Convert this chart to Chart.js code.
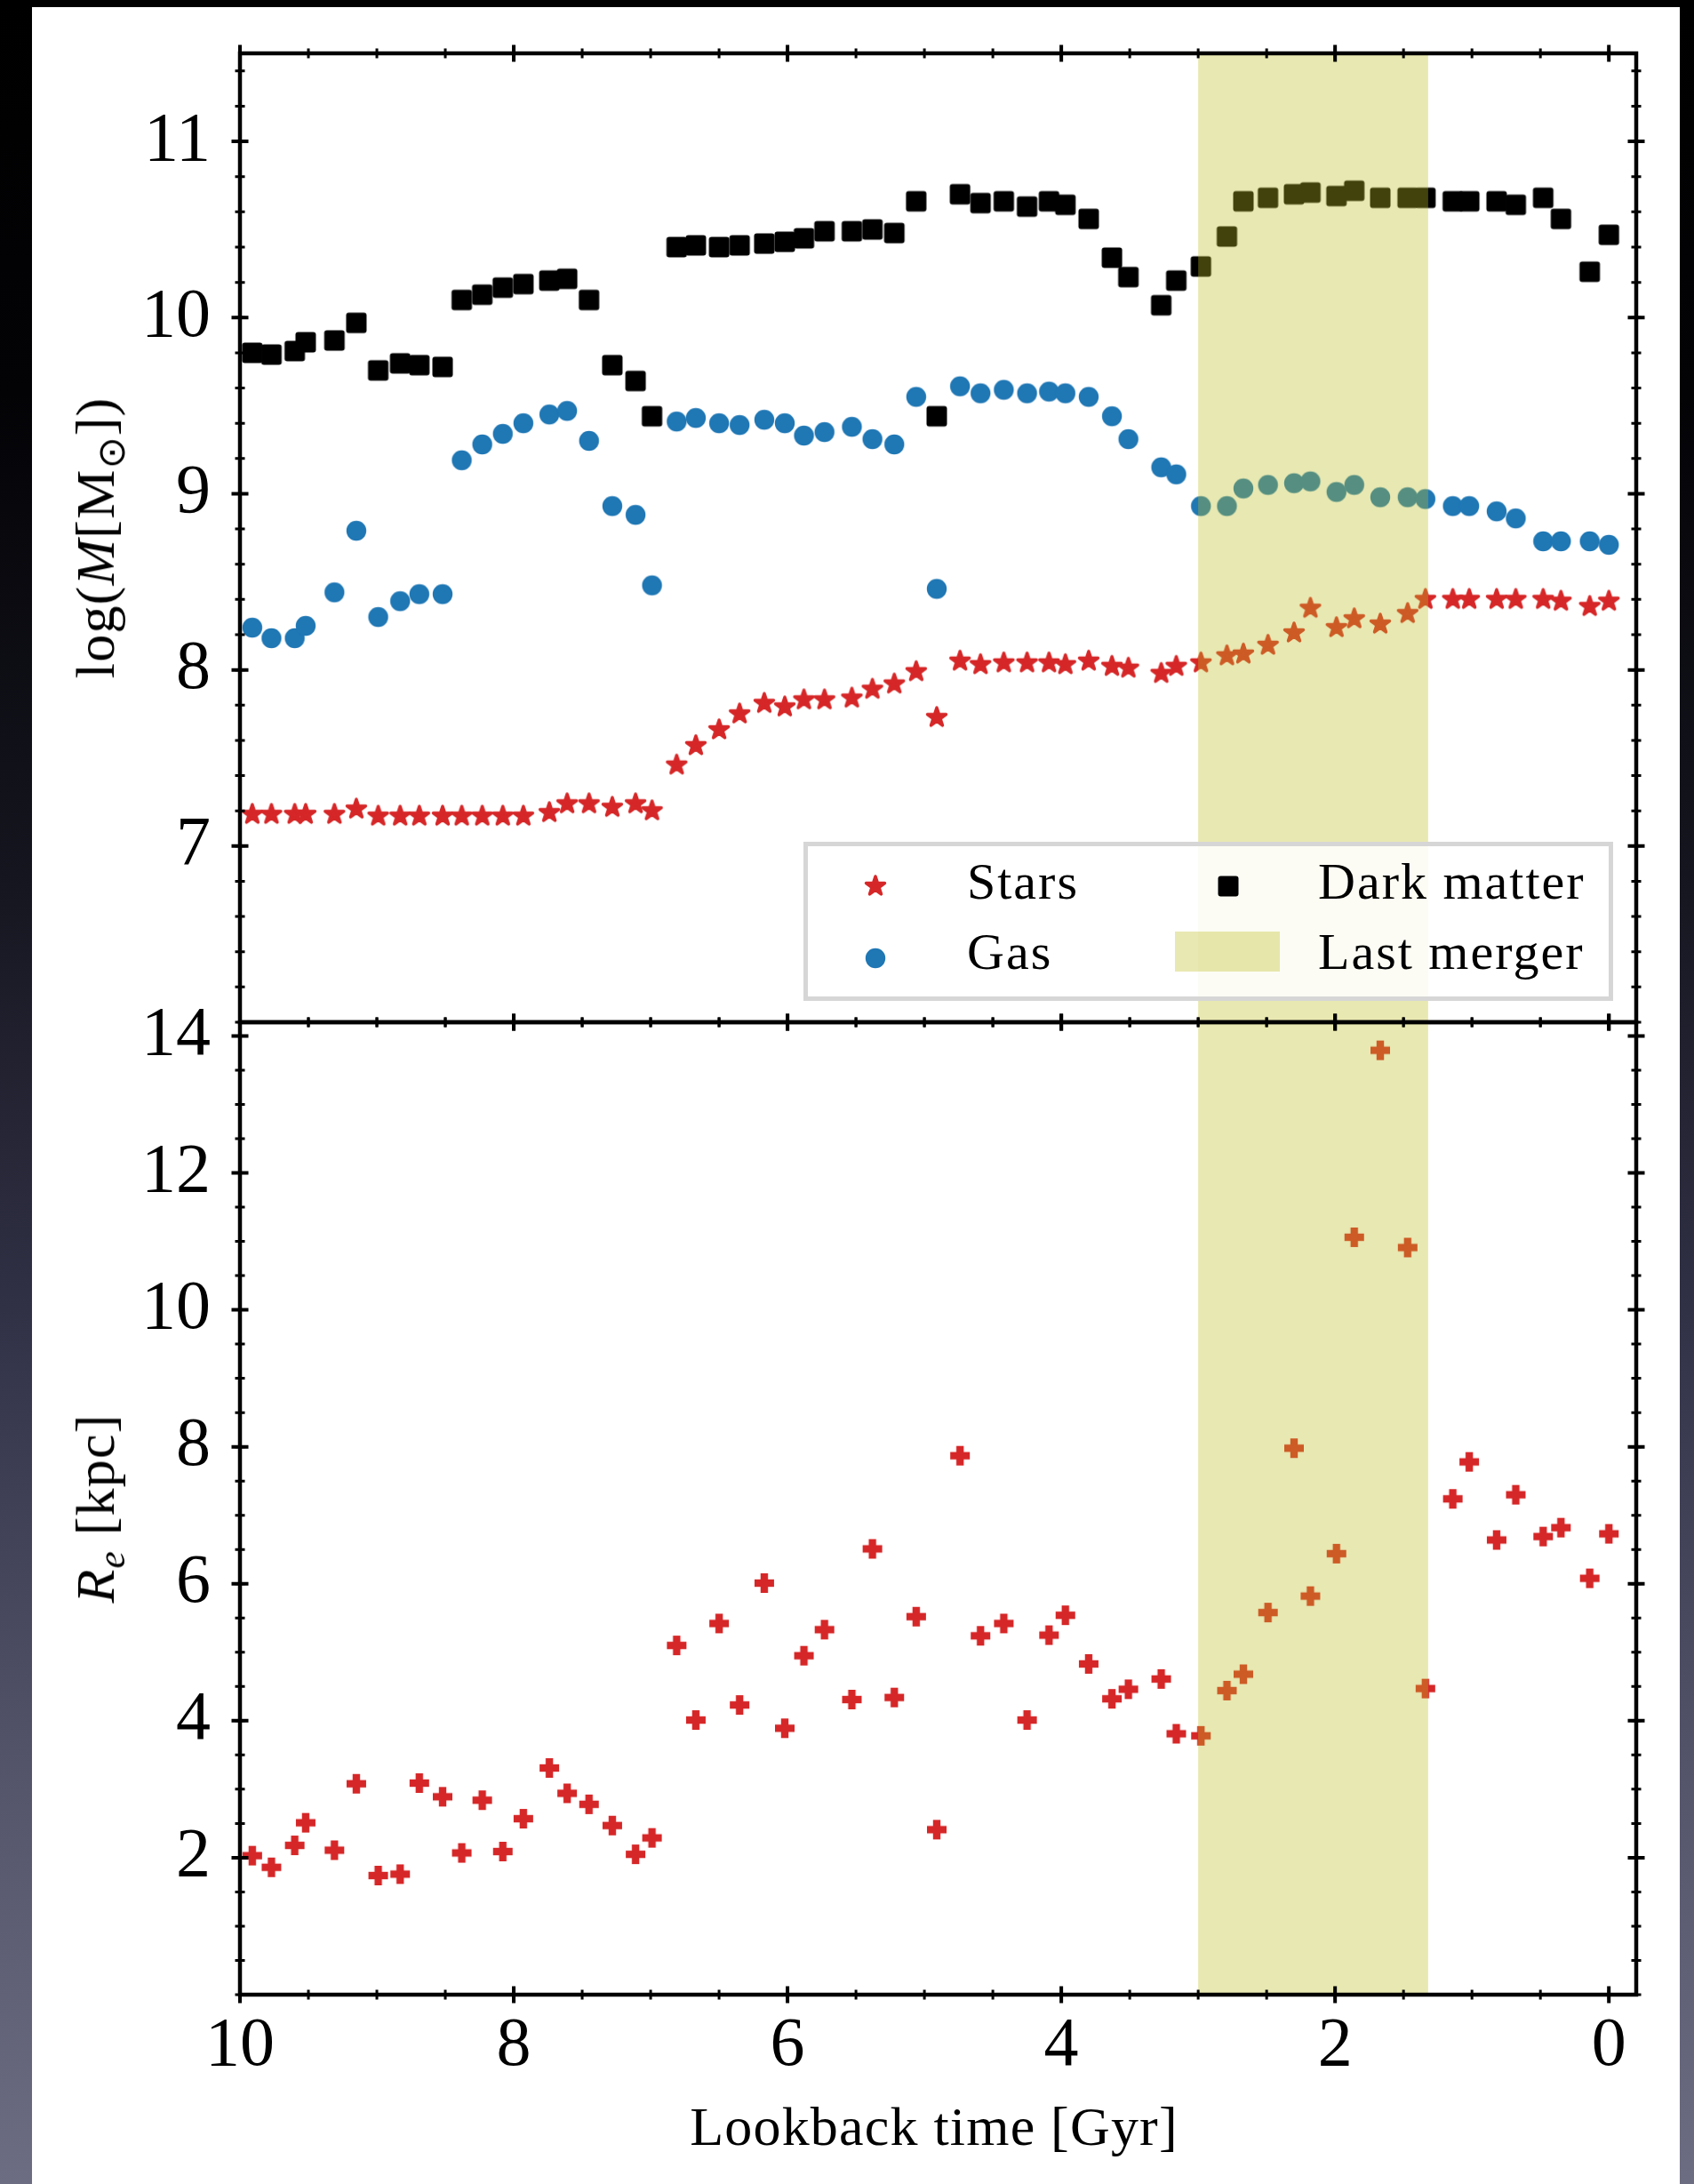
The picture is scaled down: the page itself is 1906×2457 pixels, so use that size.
<!DOCTYPE html>
<html>
<head>
<meta charset="utf-8">
<title>Mass and size evolution</title>
<script src="https://cdn.jsdelivr.net/npm/chart.js@4.4.1/dist/chart.umd.min.js"></script>
<style>
  html, body { margin: 0; padding: 0; }
  body {
    width: 1906px; height: 2457px; position: relative; overflow: hidden;
    background: linear-gradient(180deg, #000000 0%, #030306 18%, #15151f 40%, #34344a 62%, #55556c 82%, #6c6c82 100%);
    font-family: "Liberation Serif", "Times New Roman", serif; color: #000;
  }
  #panel { position: absolute; left: 36px; top: 8px; width: 1854px; height: 2449px; background: #fff; }
  canvas.chart { position: absolute; left: 0; }
  .txt { position: absolute; white-space: nowrap; line-height: 1; }
  .vt { transform: translate(-50%, -50%) rotate(-90deg); }
  .title { font-size: 62px; letter-spacing: 1.2px; }
  .sub { font-size: 0.7em; position: relative; top: 0.28em; }
  #legend { position: absolute; left: 904px; top: 947px; width: 911px; height: 179px; box-sizing: border-box;
            border: 5px solid #d6d6d6; background: rgba(255,255,255,0.85); }
  #legend canvas, #legend .patch, #legend .txt { position: absolute; }
  #legend .txt { font-size: 58px; letter-spacing: 2px; }
</style>
</head>
<body>
<div id="panel"></div>
<canvas id="massChart" class="chart" width="1906" height="1200" style="top:0;width:1906px;height:1200px"></canvas>
<canvas id="sizeChart" class="chart" width="1906" height="1357" style="top:1100px;width:1906px;height:1357px"></canvas>
<div class="txt vt title" id="yTitleTop" style="left:107px;top:605px">log(<i>M</i>[M<span class="sub">⊙</span>])</div>
<div class="txt vt title" id="yTitleBottom" style="left:107px;top:1697px"><i>R<span class="sub">e</span></i> [kpc]</div>
<div class="txt title" id="xTitle" style="left:551px;width:1000px;text-align:center;top:2361px">Lookback time [Gyr]</div>
<div id="legend"></div>
<script>
// ---------------- data ----------------
const lookbackTime = [
  9.91, 9.77, 9.60, 9.52, 9.31, 9.15, 8.99, 8.83, 8.69, 8.52,
  8.38, 8.23, 8.08, 7.93, 7.74, 7.61, 7.45, 7.28, 7.11, 6.99,
  6.81, 6.67, 6.50, 6.35, 6.17, 6.02, 5.88, 5.73, 5.53, 5.38,
  5.22, 5.06, 4.91, 4.74, 4.59, 4.42, 4.25, 4.09, 3.97, 3.80,
  3.63, 3.51, 3.27, 3.16, 2.98, 2.79, 2.67, 2.49, 2.30, 2.18,
  1.99, 1.86, 1.67, 1.47, 1.34, 1.14, 1.02, 0.82, 0.68, 0.48,
  0.35, 0.14, 0.00
];
const logMassStars = [
  7.18, 7.18, 7.18, 7.18, 7.18, 7.21, 7.17, 7.17, 7.17, 7.17,
  7.17, 7.17, 7.17, 7.17, 7.19, 7.24, 7.24, 7.22, 7.24, 7.20,
  7.46, 7.57, 7.66, 7.75, 7.81, 7.79, 7.83, 7.83, 7.84, 7.89,
  7.92, 7.99, 7.73, 8.05, 8.03, 8.04, 8.04, 8.04, 8.03, 8.05,
  8.02, 8.01, 7.98, 8.02, 8.04, 8.08, 8.09, 8.14, 8.21, 8.35,
  8.24, 8.29, 8.26, 8.32, 8.40, 8.40, 8.40, 8.40, 8.40, 8.40,
  8.39, 8.36, 8.39
];
const logMassGas = [
  8.24, 8.18, 8.18, 8.25, 8.44, 8.79, 8.30, 8.39, 8.43, 8.43,
  9.19, 9.28, 9.34, 9.40, 9.45, 9.47, 9.30, 8.93, 8.88, 8.48,
  9.41, 9.43, 9.40, 9.39, 9.42, 9.40, 9.33, 9.35, 9.38, 9.31,
  9.28, 9.55, 8.46, 9.61, 9.57, 9.59, 9.57, 9.58, 9.57, 9.55,
  9.44, 9.31, 9.15, 9.11, 8.93, 8.93, 9.03, 9.05, 9.06, 9.07,
  9.01, 9.05, 8.98, 8.98, 8.97, 8.93, 8.93, 8.90, 8.86, 8.73,
  8.73, 8.73, 8.71
];
const logMassDarkMatter = [
  9.80, 9.79, 9.81, 9.86, 9.87, 9.97, 9.70, 9.74, 9.73, 9.72,
  10.10, 10.13, 10.17, 10.19, 10.21, 10.22, 10.10, 9.73, 9.64, 9.44,
  10.40, 10.41, 10.40, 10.41, 10.42, 10.43, 10.45, 10.49, 10.49, 10.50,
  10.48, 10.66, 9.44, 10.70, 10.65, 10.66, 10.63, 10.66, 10.64, 10.56,
  10.34, 10.23, 10.07, 10.21, 10.29, 10.46, 10.66, 10.68, 10.70, 10.71,
  10.69, 10.72, 10.68, 10.68, 10.68, 10.66, 10.66, 10.66, 10.64, 10.68,
  10.56, 10.26, 10.47
];
const effectiveRadius = [
  2.03, 1.86, 2.18, 2.51, 2.11, 3.08, 1.74, 1.76, 3.09, 2.89,
  2.07, 2.84, 2.09, 2.57, 3.31, 2.94, 2.78, 2.47, 2.05, 2.29,
  5.10, 4.01, 5.42, 4.23, 6.01, 3.89, 4.95, 5.33, 4.31, 6.51,
  4.34, 5.52, 2.41, 7.87, 5.24, 5.42, 4.01, 5.25, 5.54, 4.83,
  4.32, 4.46, 4.61, 3.81, 3.78, 4.44, 4.68, 5.58, 7.98, 5.82,
  6.44, 11.06, 13.79, 10.91, 4.47, 7.24, 7.78, 6.64, 7.30, 6.69,
  6.82, 6.08, 6.73
];
const lastMergerWindow = [1.32, 3.0];          // Gyr, start and end of the shaded band
const xTickValues = [10, 8, 6, 4, 2, 0];
const massTickValues = [7, 8, 9, 10, 11];
const radiusTickValues = [2, 4, 6, 8, 10, 12, 14];
const seriesLabels = ['Stars', 'Gas', 'Dark matter', 'Last merger'];

// ---------------- styles ----------------
const RED = '#d62728', BLUE = '#1f77b4', BLACK = '#000000';
const SHADE = 'rgba(188, 189, 34, 0.35)';
const SERIF = '"Liberation Serif", "Times New Roman", serif';
const TICK_FONT = { family: SERIF, size: 78, lineHeight: 1 };

function markerCanvas(w, h, draw) {
  const c = document.createElement('canvas');
  c.width = w; c.height = h;
  draw(c.getContext('2d'), w / 2, h / 2);
  return c;
}
function starMarker() {
  return markerCanvas(32, 32, (g, cx, cy) => {
    const R = 11, r = R * 0.381966;
    g.beginPath();
    for (let i = 0; i < 10; i++) {
      const a = -Math.PI / 2 + i * Math.PI / 5;
      const rad = i % 2 === 0 ? R : r;
      g.lineTo(cx + rad * Math.cos(a), cy + rad * Math.sin(a));
    }
    g.closePath();
    g.fillStyle = RED; g.fill();
    g.lineJoin = 'round'; g.lineWidth = 3.5; g.strokeStyle = RED; g.stroke();
  });
}
function squareMarker() {
  return markerCanvas(28, 28, (g, cx, cy) => {
    g.beginPath();
    g.roundRect(cx - 11.5, cy - 11.5, 23, 23, 3);
    g.fillStyle = BLACK; g.fill();
  });
}
function circleMarker() {
  return markerCanvas(28, 28, (g, cx, cy) => {
    g.beginPath(); g.arc(cx, cy, 11.2, 0, Math.PI * 2);
    g.fillStyle = BLUE; g.fill();
  });
}
function plusMarker() {
  return markerCanvas(28, 28, (g, cx, cy) => {
    const s = 11, w = 4.2;
    g.fillStyle = RED;
    g.fillRect(cx - s, cy - w, 2 * s, 2 * w);
    g.fillRect(cx - w, cy - s, 2 * w, 2 * s);
  });
}
const starImg = starMarker(), squareImg = squareMarker(), circleImg = circleMarker(), plusImg = plusMarker();

const points = (ys) => lookbackTime.map((t, i) => ({ x: t, y: ys[i] }));
const scatterSet = (label, ys, img) => ({
  label, data: points(ys), pointStyle: img, pointRadius: 12, pointHoverRadius: 12,
  showLine: false, backgroundColor: 'transparent', borderColor: 'transparent'
});

// ---------------- plugins ----------------
const shadePlugin = {
  id: 'mergerShade',
  afterDatasetsDraw(chart) {
    const { ctx, chartArea: a, scales: { x } } = chart;
    const p1 = x.getPixelForValue(lastMergerWindow[0]);
    const p2 = x.getPixelForValue(lastMergerWindow[1]);
    ctx.save();
    ctx.fillStyle = SHADE;
    ctx.fillRect(Math.min(p1, p2), a.top, Math.abs(p2 - p1), a.bottom - a.top);
    ctx.restore();
  }
};
function rangeSteps(min, max, step) {
  const out = [];
  for (let v = Math.ceil(min / step - 1e-9) * step; v <= max + 1e-9; v += step) out.push(+v.toFixed(6));
  return out;
}
const frameTicksPlugin = {
  id: 'frameTicks',
  afterDraw(chart, args, opts) {
    const { ctx, chartArea: a, scales: { x, y } } = chart;
    ctx.save();
    ctx.strokeStyle = '#000';
    const xs = (vals, half, lw) => {
      ctx.lineWidth = lw; ctx.beginPath();
      vals.forEach(v => {
        const px = x.getPixelForValue(v);
        ctx.moveTo(px, a.top - half); ctx.lineTo(px, a.top + half);
        ctx.moveTo(px, a.bottom - half); ctx.lineTo(px, a.bottom + half);
      });
      ctx.stroke();
    };
    const ys = (vals, half, lw) => {
      ctx.lineWidth = lw; ctx.beginPath();
      vals.forEach(v => {
        const py = y.getPixelForValue(v);
        ctx.moveTo(a.left - half, py); ctx.lineTo(a.left + half, py);
        ctx.moveTo(a.right - half, py); ctx.lineTo(a.right + half, py);
      });
      ctx.stroke();
    };
    xs(rangeSteps(0, 10, 0.5), 5.5, 3);
    xs(xTickValues, 9.5, 4);
    ys(rangeSteps(y.min, y.max, opts.yMinor), 5.5, 3);
    ys(opts.yMajor, 9.5, 4);
    ctx.lineWidth = 4.5;
    ctx.strokeRect(a.left, a.top, a.right - a.left, a.bottom - a.top);
    ctx.restore();
  }
};

const noScalePadding = (s) => { s.paddingTop = 0; s.paddingBottom = 0; s.paddingLeft = 0; s.paddingRight = 0; };
function xScale(showLabels, height) {
  return {
    type: 'linear', position: 'bottom', min: -0.2, max: 10, reverse: true,
    grid: { display: false, drawTicks: false }, border: { display: false },
    afterBuildTicks: (s) => { s.ticks = xTickValues.map(v => ({ value: v })); },
    afterFit: (s) => { s.height = height; noScalePadding(s); },
    ticks: { display: showLabels, font: TICK_FONT, color: '#000', padding: 20,
             maxRotation: 0, minRotation: 0, autoSkip: false, callback: v => String(v) }
  };
}
function yScale(min, max, tickValues) {
  return {
    type: 'linear', position: 'left', min, max,
    grid: { display: false, drawTicks: false }, border: { display: false },
    afterBuildTicks: (s) => { s.ticks = tickValues.map(v => ({ value: v })); },
    afterFit: (s) => { s.width = 270; noScalePadding(s); },
    ticks: { font: TICK_FONT, color: '#000', padding: 33, autoSkip: false, callback: v => String(v) }
  };
}
const baseOptions = (padding) => ({
  responsive: false, animation: false, devicePixelRatio: 1, events: [],
  layout: { padding },
  plugins: { legend: { display: false }, tooltip: { enabled: false } }
});

// ---------------- top panel: masses ----------------
const massOpts = baseOptions({ left: 0, right: 65, top: 60, bottom: 50 });
massOpts.scales = { x: xScale(false, 0), y: yScale(6, 11.5, massTickValues) };
massOpts.plugins.frameTicks = { yMajor: massTickValues, yMinor: 0.2 };
new Chart(document.getElementById('massChart'), {
  type: 'scatter',
  data: { datasets: [
    scatterSet(seriesLabels[2], logMassDarkMatter, squareImg),
    scatterSet(seriesLabels[1], logMassGas, circleImg),
    scatterSet(seriesLabels[0], logMassStars, starImg)
  ] },
  options: massOpts,
  plugins: [shadePlugin, frameTicksPlugin]
});

// ---------------- bottom panel: effective radius ----------------
const sizeOpts = baseOptions({ left: 0, right: 65, top: 50, bottom: 0 });
sizeOpts.scales = { x: xScale(true, 213), y: yScale(0, 14.2, radiusTickValues) };
sizeOpts.plugins.frameTicks = { yMajor: radiusTickValues, yMinor: 0.5 };
new Chart(document.getElementById('sizeChart'), {
  type: 'scatter',
  data: { datasets: [ scatterSet('Stars', effectiveRadius, plusImg) ] },
  options: sizeOpts,
  plugins: [shadePlugin, frameTicksPlugin]
});

// ---------------- legend ----------------
(function buildLegend() {
  const box = document.getElementById('legend');
  const ox = 909, oy = 952;            // inner origin of the legend box
  const fs = 58;
  const items = [
    { label: seriesLabels[0], img: starMarker(),   mx: 985,  my: 997,  tx: 1088, base: 1012 },
    { label: seriesLabels[1], img: circleMarker(), mx: 985,  my: 1078, tx: 1088, base: 1091 },
    { label: seriesLabels[2], img: squareMarker(), mx: 1382, my: 997,  tx: 1483, base: 1012 },
    { label: seriesLabels[3], patch: [1322, 1048, 1440, 1093],        tx: 1483, base: 1091 }
  ];
  items.forEach(it => {
    if (it.img) {
      it.img.style.left = (it.mx - it.img.width / 2 - ox) + 'px';
      it.img.style.top = (it.my - it.img.height / 2 - oy) + 'px';
      box.appendChild(it.img);
    } else {
      const p = document.createElement('div');
      p.className = 'patch';
      p.style.cssText = `left:${it.patch[0] - ox}px;top:${it.patch[1] - oy}px;width:${it.patch[2] - it.patch[0]}px;height:${it.patch[3] - it.patch[1]}px;background:${SHADE};`;
      box.appendChild(p);
    }
    const t = document.createElement('div');
    t.className = 'txt';
    t.textContent = it.label;
    t.style.left = (it.tx - ox) + 'px';
    t.style.top = (it.base - 0.8375 * fs - oy) + 'px';
    box.appendChild(t);
  });
})();
</script>
</body>
</html>
